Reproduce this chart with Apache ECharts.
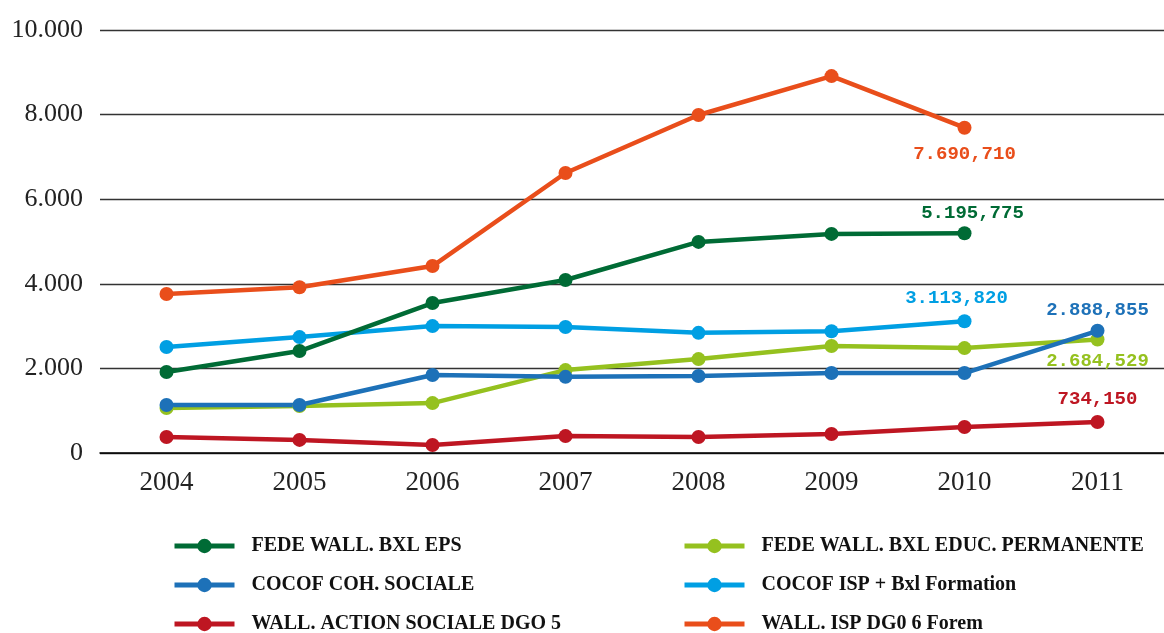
<!DOCTYPE html>
<html>
<head>
<meta charset="utf-8">
<script src="https://cdn.jsdelivr.net/npm/echarts@6/dist/echarts.min.js"></script>
<style>html,body{margin:0;padding:0;background:#fff}#c{width:1164px;height:633px}</style>
</head>
<body>
<div id="c"></div>
<script>
var years = ['2004','2005','2006','2007','2008','2009','2010','2011'];
var yTicks = [0, 2000, 4000, 6000, 8000, 10000];

var names = ['FEDE WALL. BXL EPS','FEDE WALL. BXL EDUC. PERMANENTE','COCOF COH. SOCIALE','COCOF ISP + Bxl Formation','WALL. ACTION SOCIALE DGO 5','WALL. ISP DG0 6 Forem'];

var fedeEps    = [1915, 2410, 3545, 4090, 4990, 5180, 5195.775, null];
var fedeEduc   = [1065, 1110, 1180, 1960, 2220, 2530, 2480, 2684.529];
var cocofCoh   = [1135, 1135, 1845, 1800, 1820, 1890, 1890, 2888.855];
var cocofIsp   = [2505, 2740, 3000, 2980, 2840, 2880, 3113.820, null];
var wallAction = [380, 310, 190, 400, 380, 450, 615, 734.150];
var wallIsp    = [3760, 3920, 4420, 6620, 7990, 8910, 7690.710, null];

var colors = {
  eps: '#006b35', educ: '#95c11f', coh: '#1d71b8', isp: '#009fe3', action: '#be1622', forem: '#e94e1b'
};

function fmtThousands(v){
  var s = String(Math.round(v));
  return s.replace(/\B(?=(\d{3})+(?!\d))/g, '.');
}
function fmtEnd(v){
  var ip = Math.floor(v);
  var dec = Math.round((v - ip) * 1000);
  var ds = String(dec); while (ds.length < 3) ds = '0' + ds;
  return fmtThousands(ip) + ',' + ds;
}

function buildData(arr, labelOpt){
  var last = -1;
  for (var i = 0; i < arr.length; i++) if (arr[i] != null) last = i;
  return arr.map(function(v, i){
    if (i === last) {
      return { value: v, label: Object.assign({ show: true, formatter: function(p){ return fmtEnd(p.value); } }, labelOpt) };
    }
    return v;
  });
}

var labelFont = { fontFamily: 'Liberation Mono', fontWeight: 'bold', fontSize: 19 };

function mk(name, arr, color, labelOpt){
  return {
    name: name, type: 'line', data: buildData(arr, Object.assign({ color: color }, labelFont, labelOpt)),
    symbol: 'circle', symbolSize: 14, lineStyle: { width: 4.5, color: color },
    itemStyle: { color: color }, connectNulls: false, animation: false
  };
}

var legendCommon = {
  orient: 'vertical', top: 536, height: 120, itemWidth: 60, itemHeight: 18, itemGap: 19, padding: 0,
  lineStyle: { width: 5 },
  textStyle: { fontFamily: 'Liberation Serif', fontWeight: 'bold', fontSize: 20, lineHeight: 20, color: '#111', padding: [0,0,0,12] }
};

var chart = echarts.init(document.getElementById('c'));
chart.setOption({
  animation: false,
  grid: { left: 100, right: 0, top: 30, bottom: 180 },
  xAxis: {
    type: 'category', data: years, boundaryGap: true,
    axisLine: { lineStyle: { color: '#000', width: 1.5 } },
    axisTick: { inside: true, length: 12, lineStyle: { color: '#000', width: 1.2 } },
    axisLabel: { margin: 16, fontFamily: 'Liberation Serif', fontSize: 27, color: '#222' }
  },
  yAxis: {
    type: 'value', min: yTicks[0], max: yTicks[yTicks.length - 1], interval: 2000,
    axisLine: { show: false }, axisTick: { show: false },
    splitLine: { lineStyle: { color: '#333', width: 1.3 } },
    axisLabel: { margin: 17, fontFamily: 'Liberation Serif', fontSize: 26, color: '#222', formatter: function(v){ return fmtThousands(v); } }
  },
  legend: [
    Object.assign({ data: [names[0], names[2], names[4]], left: 172 }, legendCommon),
    Object.assign({ data: [names[1], names[3], names[5]], left: 682 }, legendCommon)
  ],
  series: [
    mk(names[4], wallAction, colors.action, { position: 'top', distance: 6, offset: [0, 0] }),
    mk(names[1], fedeEduc, colors.educ, { position: 'bottom', distance: 5, offset: [0, 0] }),
    mk(names[2], cocofCoh, colors.coh, { position: 'top', distance: 4, offset: [0, 0] }),
    mk(names[3], cocofIsp, colors.isp, { position: 'top', distance: 7, offset: [-8, 0] }),
    mk(names[0], fedeEps, colors.eps, { position: 'top', distance: 3, offset: [8, 0] }),
    mk(names[5], wallIsp, colors.forem, { position: 'bottom', distance: 10, offset: [0, 0] })
  ]
});
</script>
</body>
</html>
